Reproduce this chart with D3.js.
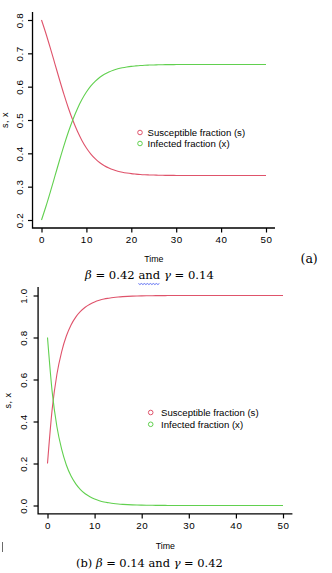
<!DOCTYPE html>
<html lang="en">
  <head>
    <meta charset="utf-8">
    <title>SIS fractions</title>
    <style>
      body { margin: 0; background: #fff; }
      svg { display: block; }
      text { font-family: "Liberation Sans", Arial, sans-serif; }
      .cap { font-family: "DejaVu Serif", "Liberation Serif", serif; font-size: 12.5px; white-space: pre; }
    </style>
    <script src="https://d3js.org/d3.v7.min.js"></script>
  </head>
  <body>
    <div class="chart"></div>
    <script>
    // time points shared by all series
    const timeSteps = [0,1,2,3,4,5,6,7,8,9,10,11,12,13,14,15,16,17,18,19,20,
      21,22,23,24,25,26,27,28,29,30,35,40,45,50]

    // panel (a): beta = 0.42, gamma = 0.14
    const susceptibleA = [0.8,0.7588,0.7142,0.6679,0.6215,0.5768,0.5354,0.4983,0.466,0.4387,
      0.4162,0.3979,0.3833,0.3718,0.3628,0.3559,0.3505,0.3464,0.3433,0.3409,0.339,
      0.3377,0.3366,0.3358,0.3352,0.3348,0.3344,0.3341,0.3339,0.3338,0.3337,0.3334,0.3333,0.3333,0.3333]
    const infectedA = [0.2,0.2412,0.2858,0.3321,0.3785,0.4232,0.4646,0.5017,0.534,0.5613,
      0.5838,0.6021,0.6167,0.6282,0.6372,0.6441,0.6495,0.6536,0.6567,0.6591,0.661,
      0.6623,0.6634,0.6642,0.6648,0.6652,0.6656,0.6659,0.6661,0.6662,0.6663,0.6666,0.6667,0.6667,0.6667]

    // panel (b): beta = 0.14, gamma = 0.42
    const susceptibleB = [0.2,0.46,0.625,0.732,0.807,0.86,0.897,0.924,0.944,0.958,
      0.969,0.977,0.983,0.987,0.9905,0.993,0.9947,0.996,0.997,0.9978,0.9983,
      0.9987,0.999,0.9993,0.9995,0.9996,0.9997,0.9998,0.9998,0.9999,0.9999,1,1,1,1]
    const infectedB = [0.8,0.54,0.375,0.268,0.193,0.14,0.103,0.076,0.056,0.042,
      0.031,0.023,0.017,0.013,0.0095,0.007,0.0053,0.004,0.003,0.0022,0.0017,
      0.0013,0.001,0.0007,0.0005,0.0004,0.0003,0.0002,0.0002,0.0001,0.0001,0,0,0,0]

    const xTicks = [0,10,20,30,40,50]
    const yTicksA = [0.2,0.3,0.4,0.5,0.6,0.7,0.8]
    const yTicksB = [0,0.2,0.4,0.6,0.8,1]
    const legendLabels = ["Susceptible fraction (s)", "Infected fraction (x)"]
    const colors = ["#DF536B", "#61D04F"]

    const svg = d3.select(".chart")
      .append("svg")
      .attr("width", 332)
      .attr("height", 573)
      .style("background-color", "#fff")

    const panel = (o) => {
      const g = svg.append("g")

      const x = d3.scaleLinear().domain([0,50]).range(o.xRange)
      const y = d3.scaleLinear().domain(o.yDomain).range(o.yRange)
      const pad = (o.yDomain[1]-o.yDomain[0])*0.04

      // R style "l" box
      g.append("path")
        .attr("d", `M${x(-2)},${y(o.yDomain[1]+pad)}V${y(o.yDomain[0]-pad)}H${x(52)}`)
        .attr("fill","none")
        .attr("stroke","#000")
        .attr("stroke-width",1.3)

      const xAxis = g.append("g")
        .attr("transform",`translate(0,${y(o.yDomain[0]-pad)})`)
        .call(d3.axisBottom(x).tickValues(xTicks).tickSize(4.5).tickPadding(4).tickFormat(d3.format("d")))
      xAxis.select(".domain").remove()

      const yAxis = g.append("g")
        .attr("transform",`translate(${x(-2)},0)`)
        .call(d3.axisLeft(y).tickValues(o.yTicks).tickSize(4.5).tickFormat(d3.format(".1f")))
      yAxis.select(".domain").remove()
      yAxis.selectAll("text")
        .attr("x",0).attr("dy",0)
        .attr("text-anchor","middle")
        .attr("dominant-baseline","central")
        .attr("transform",`translate(${-o.yLabelOff},0) rotate(-90)`)

      g.selectAll(".tick line").attr("stroke","#000").attr("stroke-width",1.2)
      g.selectAll(".tick text")
        .style("font-family","'Liberation Sans', Arial, sans-serif")
        .style("font-size","9.8px")
        .style("letter-spacing","0.6px")
        .attr("fill","#000")

      const line = d3.line()
        .x((d,i) => x(timeSteps[i]))
        .y(d => y(d))
        .curve(d3.curveMonotoneX)

      ;[o.s, o.i].forEach((series, k) => {
        g.append("path")
          .datum(series)
          .attr("d", line)
          .attr("fill","none")
          .attr("stroke", colors[k])
          .attr("stroke-width",1.1)
      })

      g.append("text")
        .attr("x",(x(-2)+x(52))/2)
        .attr("y",o.timeY)
        .attr("text-anchor","middle")
        .attr("dominant-baseline","central")
        .style("font-size","8.8px")
        .text("Time")

      g.append("text")
        .attr("transform",`translate(${o.sxX},${(y(o.yDomain[0])+y(o.yDomain[1]))/2}) rotate(-90)`)
        .attr("text-anchor","middle")
        .attr("dominant-baseline","central")
        .style("font-size","9px")
        .style("letter-spacing","0.5px")
        .text("s, x")

      // legend
      const lg = g.append("g").attr("transform",`translate(${o.legend[0]},${o.legend[1]})`)
      legendLabels.forEach((lab,k) => {
        lg.append("circle")
          .attr("cx",0).attr("cy",k*o.legendGap)
          .attr("r",2.3)
          .attr("fill","none")
          .attr("stroke",colors[k])
          .attr("stroke-width",1)
        lg.append("text")
          .attr("x",o.legendTextOff).attr("y",k*o.legendGap)
          .attr("dominant-baseline","central")
          .style("font-size","9.6px")
          .text(lab)
      })
    }

    panel({xRange:[41.5,266], yDomain:[0.2,0.8], yRange:[220,20], yTicks:yTicksA,
      yLabelOff:13.5, s:susceptibleA, i:infectedA, timeY:259, sxX:5,
      legend:[140,132.5], legendGap:11, legendTextOff:7.5})

    panel({xRange:[47.5,283], yDomain:[0,1], yRange:[505.5,295.5], yTicks:yTicksB,
      yLabelOff:14.5, s:susceptibleB, i:infectedB, timeY:545.5, sxX:7.5,
      legend:[150.7,412.5], legendGap:11.8, legendTextOff:10.3})

    // captions: pieces of text, italic for the greek letters; scaled to the target width
    const caption = (x0, x1, y0, parts) => {
      const t = svg.append("text").attr("class","cap").attr("x",x0).attr("y",y0)
      parts.forEach(p => t.append("tspan").style("font-style", p[1] ? "italic" : "normal").text(p[0]))
      const w = t.node().getComputedTextLength()
      t.style("font-size", (12.5*(x1-x0)/w) + "px")
      return t
    }
    const capA = caption(85, 214, 279, [["β",1],[" = 0.42 "],["and"],[" "],["γ",1],[" = 0.14"]])
    caption(76, 223, 566.5, [["(b) "],["β",1],[" = 0.14 "],["and"],[" "],["γ",1],[" = 0.42"]])
    svg.append("text").attr("class","cap").attr("x",300.5).attr("y",263).text("(a)")

    // spell-check squiggle under "and" in caption (a)
    const n = capA.node()
    const a0 = n.getStartPositionOfChar(9).x, a1 = n.getEndPositionOfChar(11).x
    const sq = d3.range(a0, a1, 1.5).map((d,k) => [d, 283.5 + (k%2 ? 1 : 0)])
    svg.append("path")
      .attr("d", d3.line()(sq))
      .attr("fill","none")
      .attr("stroke","#3b50f0")
      .attr("stroke-width",0.8)

    // text cursor mark
    svg.append("line")
      .attr("x1",2.5).attr("x2",2.5).attr("y1",542).attr("y2",552)
      .attr("stroke","#444").attr("stroke-width",0.8)
    </script>
  </body>
</html>
